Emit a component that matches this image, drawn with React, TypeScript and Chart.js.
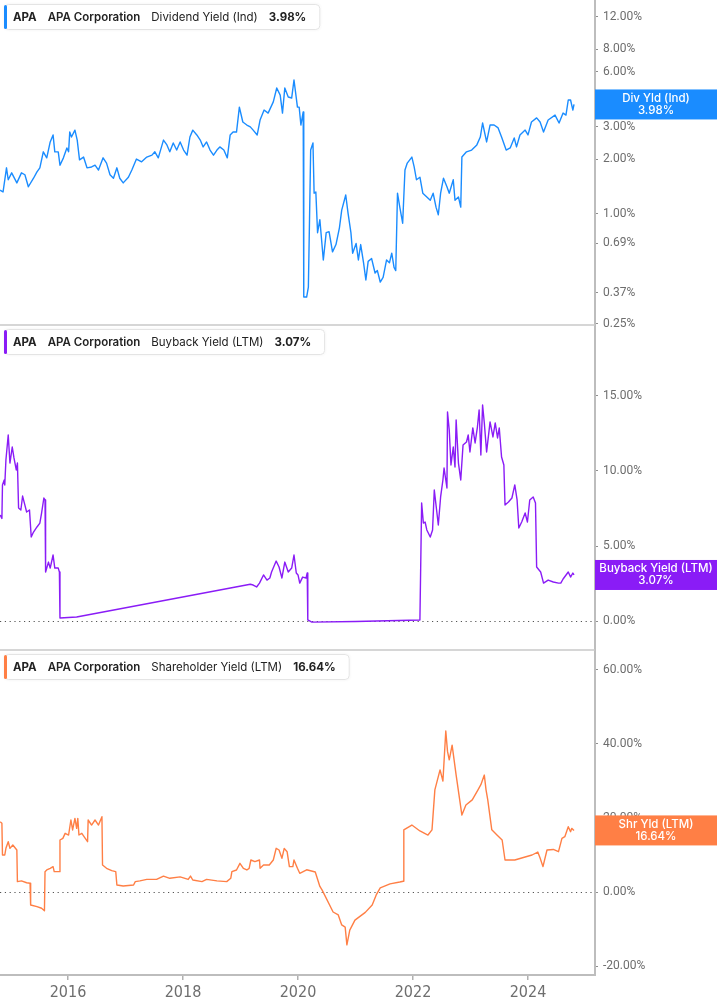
import React, { useEffect, useRef } from 'react';
import { Chart, registerables } from 'chart.js';

Chart.register(...registerables);

// ---------- data ----------
const TICKER = 'APA';
const COMPANY = 'APA Corporation';
const SERIES_NAMES = ['Dividend Yield (Ind)', 'Buyback Yield (LTM)', 'Shareholder Yield (LTM)'];
const BOX_LABELS = ['Div Yld (Ind)', 'Buyback Yield (LTM)', 'Shr Yld (LTM)'];

const X_MIN = 2014.817;
const X_MAX = 2025.165;
const YEAR_TICKS = [2016, 2018, 2020, 2022, 2024];

const DIV_MIN = 0.2466;
const DIV_MAX = 14.86;
const DIV_TICKS = [0.25, 0.37, 0.69, 1, 2, 3, 6, 8, 12];
const BUY_MIN = -1.93;
const BUY_MAX = 19.73;
const BUY_TICKS = [0, 5, 10, 15];
const SHR_MIN = -22.43;
const SHR_MAX = 65.4;
const SHR_TICKS = [-20, 0, 20, 40, 60];

const divDates = [2014.82, 2014.87, 2014.93, 2014.96, 2015.02, 2015.11, 2015.19, 2015.25, 2015.31, 2015.40,
  2015.46, 2015.51, 2015.57, 2015.63, 2015.69, 2015.74, 2015.77, 2015.83, 2015.86, 2015.92,
  2015.98, 2016.01, 2016.03, 2016.06, 2016.12, 2016.16, 2016.20, 2016.27, 2016.33, 2016.41,
  2016.47, 2016.53, 2016.61, 2016.67, 2016.73, 2016.79, 2016.85, 2016.90, 2016.96, 2017.05,
  2017.11, 2017.19, 2017.28, 2017.37, 2017.46, 2017.51, 2017.57, 2017.66, 2017.72, 2017.77,
  2017.83, 2017.89, 2017.95, 2018.01, 2018.07, 2018.12, 2018.17, 2018.24, 2018.30, 2018.35,
  2018.41, 2018.47, 2018.53, 2018.59, 2018.64, 2018.71, 2018.77, 2018.82, 2018.87, 2018.93,
  2018.98, 2019.04, 2019.11, 2019.17, 2019.22, 2019.29, 2019.34, 2019.41, 2019.48, 2019.57,
  2019.63, 2019.69, 2019.73, 2019.77, 2019.83, 2019.89, 2019.93, 2019.99, 2020.02, 2020.05,
  2020.09, 2020.10, 2020.15, 2020.18, 2020.20, 2020.22, 2020.26, 2020.28, 2020.31, 2020.34,
  2020.38, 2020.44, 2020.49, 2020.54, 2020.60, 2020.66, 2020.72, 2020.76, 2020.83, 2020.87,
  2020.92, 2020.95, 2021.01, 2021.05, 2021.09, 2021.14, 2021.18, 2021.22, 2021.28, 2021.34,
  2021.38, 2021.43, 2021.48, 2021.54, 2021.59, 2021.63, 2021.67, 2021.70, 2021.73, 2021.77,
  2021.82, 2021.86, 2021.90, 2021.98, 2022.02, 2022.06, 2022.12, 2022.17, 2022.24, 2022.30,
  2022.35, 2022.40, 2022.44, 2022.48, 2022.53, 2022.59, 2022.63, 2022.70, 2022.73, 2022.79,
  2022.83, 2022.85, 2022.93, 2023.02, 2023.11, 2023.17, 2023.21, 2023.28, 2023.34, 2023.41,
  2023.48, 2023.54, 2023.62, 2023.69, 2023.76, 2023.80, 2023.86, 2023.95, 2024.00, 2024.06,
  2024.15, 2024.21, 2024.27, 2024.35, 2024.47, 2024.54, 2024.61, 2024.66, 2024.70, 2024.74,
  2024.78, 2024.80];
const divValues = [1.35, 1.32, 1.79, 1.54, 1.68, 1.48, 1.68, 1.64, 1.41, 1.57,
  1.70, 1.79, 2.19, 2.03, 2.48, 2.71, 2.19, 2.19, 1.85, 2.03,
  2.30, 2.19, 2.81, 2.64, 2.88, 2.54, 1.98, 2.05, 1.79, 1.81,
  1.85, 1.74, 2.03, 1.90, 1.64, 1.57, 1.79, 1.57, 1.48, 1.59,
  1.74, 2.00, 1.93, 2.05, 2.10, 2.19, 2.03, 2.54, 2.39, 2.19,
  2.45, 2.24, 2.48, 2.24, 2.10, 2.64, 2.88, 2.71, 2.54, 2.33,
  2.48, 2.24, 2.10, 2.24, 2.33, 2.24, 2.03, 2.71, 2.81, 2.81,
  3.85, 3.19, 3.07, 3.00, 2.88, 2.71, 3.27, 3.71, 3.57, 4.11,
  4.90, 4.48, 3.57, 4.90, 4.37, 4.32, 5.42, 3.85, 3.85, 3.07,
  3.62, 0.351, 0.351, 0.398, 0.93, 2.24, 2.45, 1.30, 1.32, 0.79,
  0.93, 0.56, 0.79, 0.80, 0.62, 0.68, 0.84, 1.05, 1.27, 1.01,
  0.79, 0.61, 0.69, 0.56, 0.68, 0.54, 0.435, 0.55, 0.57, 0.475,
  0.49, 0.424, 0.45, 0.56, 0.54, 0.61, 0.51, 0.49, 1.30, 1.09,
  0.89, 1.74, 1.90, 2.05, 1.81, 1.54, 1.59, 1.30, 1.24, 1.19,
  1.30, 1.09, 0.99, 1.30, 1.57, 1.41, 1.30, 1.54, 1.19, 1.24,
  1.09, 2.05, 2.19, 2.24, 2.39, 2.64, 3.15, 2.48, 3.07, 3.07,
  2.96, 2.64, 2.24, 2.30, 2.61, 2.33, 2.71, 2.88, 2.71, 3.19,
  3.36, 3.19, 2.81, 3.27, 3.48, 3.15, 3.57, 3.48, 4.21, 4.21,
  3.71, 3.98];

const buyDates = [2014.82, 2014.85, 2014.86, 2014.89, 2014.90, 2014.92, 2014.96, 2014.99, 2015.03, 2015.06,
  2015.10, 2015.12, 2015.14, 2015.18, 2015.21, 2015.25, 2015.28, 2015.33, 2015.36, 2015.40,
  2015.46, 2015.51, 2015.54, 2015.58, 2015.60, 2015.61, 2015.66, 2015.69, 2015.74, 2015.77,
  2015.83, 2015.85, 2015.86, 2016.15, 2019.17, 2019.22, 2019.28, 2019.33, 2019.40, 2019.46,
  2019.51, 2019.54, 2019.62, 2019.67, 2019.72, 2019.77, 2019.83, 2019.89, 2019.93, 2019.97,
  2020.00, 2020.03, 2020.08, 2020.14, 2020.16, 2020.17, 2020.24, 2021.00, 2022.12, 2022.15,
  2022.18, 2022.21, 2022.24, 2022.30, 2022.34, 2022.37, 2022.41, 2022.44, 2022.48, 2022.52,
  2022.54, 2022.59, 2022.60, 2022.63, 2022.66, 2022.70, 2022.73, 2022.75, 2022.79, 2022.83,
  2022.87, 2022.93, 2022.96, 2022.99, 2023.04, 2023.08, 2023.12, 2023.15, 2023.18, 2023.21,
  2023.24, 2023.28, 2023.34, 2023.39, 2023.43, 2023.47, 2023.50, 2023.54, 2023.58, 2023.60,
  2023.66, 2023.72, 2023.77, 2023.81, 2023.84, 2023.89, 2023.95, 2023.99, 2024.03, 2024.09,
  2024.13, 2024.15, 2024.22, 2024.27, 2024.35, 2024.44, 2024.53, 2024.57, 2024.61, 2024.70,
  2024.74, 2024.78, 2024.80];
const buyValues = [7.07, 6.84, 9.07, 9.4, 9.07, 10.73, 12.4, 10.53, 11.6, 10.87,
  10.07, 10.53, 7.53, 7.4, 8.33, 7.73, 7.27, 7.4, 5.6, 5.93,
  6.27, 6.53, 7.2, 8.2, 8.07, 3.27, 3.93, 3.53, 4.4, 3.53,
  3.53, 3.27, 0.2, 0.27, 2.45, 2.4, 2.27, 2.53, 3.07, 2.73,
  2.87, 3.27, 4.0, 3.6, 2.87, 3.93, 3.27, 3.53, 4.4, 3.2,
  3.07, 2.53, 2.93, 2.87, 3.2, 0.07, -0.07, -0.03, 0.07, 7.87,
  6.53, 6.6, 6.07, 5.6, 6.07, 8.73, 7.4, 6.4, 8.27, 9.4,
  10.2, 8.87, 13.93, 12.73, 10.4, 11.6, 10.27, 13.4, 10.53, 9.4,
  11.73, 11.93, 12.4, 11.27, 12.87, 11.87, 12.93, 14.07, 11.07, 14.4,
  13.2, 11.27, 13.27, 12.27, 13.2, 12.2, 12.87, 10.93, 10.4, 7.73,
  7.93, 8.2, 9.07, 8.07, 6.2, 6.6, 7.2, 6.6, 8.07, 8.27,
  7.87, 3.6, 3.27, 2.53, 2.73, 2.6, 2.53, 2.53, 2.8, 3.27,
  2.93, 3.2, 3.07];

const shrDates = [2014.82, 2014.85, 2014.86, 2014.90, 2014.92, 2014.96, 2014.99, 2015.04, 2015.11, 2015.12,
  2015.19, 2015.28, 2015.34, 2015.35, 2015.46, 2015.54, 2015.59, 2015.60, 2015.63, 2015.69,
  2015.74, 2015.76, 2015.85, 2015.86, 2015.91, 2015.95, 2016.01, 2016.05, 2016.08, 2016.12,
  2016.15, 2016.17, 2016.19, 2016.24, 2016.30, 2016.34, 2016.35, 2016.41, 2016.47, 2016.53,
  2016.59, 2016.60, 2016.67, 2016.76, 2016.83, 2016.85, 2016.96, 2017.14, 2017.17, 2017.25,
  2017.37, 2017.54, 2017.66, 2017.77, 2017.95, 2018.09, 2018.13, 2018.17, 2018.33, 2018.41,
  2018.59, 2018.76, 2018.83, 2018.85, 2018.93, 2018.99, 2019.05, 2019.11, 2019.15, 2019.18,
  2019.25, 2019.33, 2019.34, 2019.40, 2019.50, 2019.57, 2019.62, 2019.67, 2019.72, 2019.76,
  2019.81, 2019.85, 2019.91, 2019.93, 2019.99, 2020.03, 2020.15, 2020.30, 2020.38, 2020.42,
  2020.61, 2020.70, 2020.76, 2020.82, 2020.85, 2020.90, 2020.99, 2021.17, 2021.29, 2021.36,
  2021.43, 2021.60, 2021.77, 2021.83, 2021.84, 2021.98, 2022.12, 2022.26, 2022.33, 2022.38,
  2022.47, 2022.52, 2022.57, 2022.60, 2022.63, 2022.68, 2022.75, 2022.80, 2022.85, 2022.92,
  2023.03, 2023.13, 2023.18, 2023.24, 2023.27, 2023.30, 2023.37, 2023.46, 2023.55, 2023.60,
  2023.77, 2023.95, 2024.07, 2024.17, 2024.21, 2024.26, 2024.33, 2024.44, 2024.53, 2024.59,
  2024.64, 2024.70, 2024.74, 2024.76, 2024.80];
const shrValues = [19.0, 18.6, 10.0, 10.0, 11.8, 13.6, 11.8, 12.7, 11.35, 2.8,
  3.0, 2.5, 2.35, -3.5, -3.97, -4.4, -5.05, 5.5, 5.95, 6.4,
  6.85, 5.5, 5.5, 14.05, 14.5, 15.85, 15.4, 19.46, 16.76, 19.9,
  17.2, 19.9, 15.4, 15.85, 14.5, 13.6, 19.46, 18.1, 19.46, 18.1,
  20.35, 7.3, 6.4, 5.76, 5.5, 1.9, 1.62, 1.9, 2.8, 3.0,
  3.4, 3.4, 4.3, 3.7, 4.1, 3.4, 4.3, 3.24, 2.8, 3.4,
  3.0, 2.8, 3.7, 5.5, 5.95, 7.75, 6.4, 5.95, 6.4, 8.65,
  8.2, 8.65, 6.4, 7.3, 7.3, 8.65, 11.8, 11.35, 9.1, 11.8,
  10.9, 6.85, 6.85, 8.65, 6.4, 5.05, 6.0, 5.4, 1.5, 0.5,
  -5.4, -6.2, -8.9, -9.5, -14.3, -10.3, -7.6, -5.5, -3.5, -0.8,
  1.1, 2.2, 2.7, 2.9, 16.8, 18.1, 16.5, 15.4, 16.8, 27.6,
  33, 30, 43.5, 38, 35.7, 39.7, 31.6, 26.2, 20.8, 23.5,
  24.9, 27.6, 29, 31.6, 27.6, 24.9, 16.8, 15.4, 14.05, 8.65,
  8.65, 9.46, 10, 10.8, 9.2, 6.85, 11.35, 11.5, 10.9, 14.5,
  14.95, 17.65, 16.3, 17.2, 16.64];

// ---------- style ----------
const COLORS = ['#1a8cff', '#8a1cf6', '#ff7f45'];
const AXIS_W = 122;
const TEXT_FONT = 'Inter, "Noto Sans", sans-serif';
const LEGEND_SIZE = 11.5;

const pct = (v: number) => v.toFixed(2) + '%';

function rr(ctx: CanvasRenderingContext2D, x: number, y: number, w: number, h: number, r: number) {
  ctx.beginPath();
  ctx.moveTo(x + r, y);
  ctx.lineTo(x + w - r, y);
  ctx.arcTo(x + w, y, x + w, y + r, r);
  ctx.lineTo(x + w, y + h - r);
  ctx.arcTo(x + w, y + h, x + w - r, y + h, r);
  ctx.lineTo(x + r, y + h);
  ctx.arcTo(x, y + h, x, y + h - r, r);
  ctx.lineTo(x, y + r);
  ctx.arcTo(x, y, x + r, y, r);
  ctx.closePath();
}

function drawLegend(ctx: CanvasRenderingContext2D, x: number, y: number, color: string, parts: { t: string; w: number }[]) {
  const GAP = 11;
  const widths = parts.map((p) => {
    ctx.font = `${p.w} ${LEGEND_SIZE}px ${TEXT_FONT}`;
    return ctx.measureText(p.t).width;
  });
  const total = widths.reduce((a, b) => a + b, 0) + GAP * (parts.length - 1);
  const w = 9 + total + 14;
  const h = 26;
  ctx.save();
  ctx.shadowColor = 'rgba(0,0,0,0.06)';
  ctx.shadowBlur = 3;
  ctx.fillStyle = '#ffffff';
  rr(ctx, x, y, w, h, 4);
  ctx.fill();
  ctx.shadowColor = 'transparent';
  ctx.strokeStyle = '#e4e4e4';
  ctx.lineWidth = 1;
  rr(ctx, x + 0.5, y + 0.5, w - 1, h - 1, 4);
  ctx.stroke();
  ctx.fillStyle = color;
  rr(ctx, x, y + 1, 3, h - 2, 1.5);
  ctx.fill();
  let cx = x + 9;
  ctx.textBaseline = 'middle';
  ctx.textAlign = 'left';
  parts.forEach((p, i) => {
    ctx.font = `${p.w} ${LEGEND_SIZE}px ${TEXT_FONT}`;
    ctx.fillStyle = '#222222';
    ctx.fillText(p.t, cx, y + h / 2 + 0.5);
    cx += widths[i] + GAP;
  });
  ctx.restore();
}

const overlay = {
  id: 'overlay',
  beforeDatasetsDraw(chart: any) {
    const { ctx, chartArea } = chart;
    const s1 = chart.scales.y1;
    const s2 = chart.scales.y2;
    const s3 = chart.scales.y3;
    ctx.save();
    ctx.strokeStyle = '#c9c9c9';
    ctx.lineWidth = 1.5;
    [s1.bottom, s2.bottom].forEach((yy: number) => {
      ctx.beginPath();
      ctx.moveTo(chartArea.left, yy);
      ctx.lineTo(chartArea.right, yy);
      ctx.stroke();
    });
    ctx.setLineDash([1.2, 3.6]);
    ctx.strokeStyle = '#555555';
    ctx.lineWidth = 1;
    [s2, s3].forEach((s: any) => {
      const yy = Math.round(s.getPixelForValue(0)) + 0.5;
      ctx.beginPath();
      ctx.moveTo(chartArea.left, yy);
      ctx.lineTo(chartArea.right, yy);
      ctx.stroke();
    });
    ctx.restore();
  },
  afterDraw(chart: any) {
    const { ctx, chartArea } = chart;
    const scales = [chart.scales.y1, chart.scales.y2, chart.scales.y3];
    const lasts = [divValues[divValues.length - 1], buyValues[buyValues.length - 1], shrValues[shrValues.length - 1]];
    scales.forEach((s: any, i: number) => {
      drawLegend(ctx, 4, s.top + 4, COLORS[i], [
        { t: TICKER, w: 700 },
        { t: COMPANY, w: 600 },
        { t: SERIES_NAMES[i], w: 400 },
        { t: pct(lasts[i]), w: 700 },
      ]);
      const yv = s.getPixelForValue(lasts[i]);
      const bx = chartArea.right;
      const bw = chart.width - bx;
      ctx.save();
      ctx.fillStyle = COLORS[i];
      ctx.fillRect(bx, yv - 15, bw, 30);
      ctx.fillStyle = '#ffffff';
      ctx.font = `500 11.5px ${TEXT_FONT}`;
      ctx.textAlign = 'center';
      ctx.textBaseline = 'middle';
      ctx.fillText(BOX_LABELS[i], bx + bw / 2, yv - 6);
      ctx.fillText(pct(lasts[i]), bx + bw / 2, yv + 6);
      ctx.restore();
    });
  },
};

function yAxis(type: string, min: number, max: number, ticks: number[], weight: number) {
  return {
    type,
    position: 'right',
    stack: 'panels',
    stackWeight: 1,
    weight,
    min,
    max,
    bounds: 'data',
    afterBuildTicks: (s: any) => {
      s.ticks = ticks.map((v) => ({ value: v }));
    },
    afterFit: (s: any) => {
      s.width = AXIS_W;
      s.paddingTop = 0;
      s.paddingBottom = 0;
    },
    ticks: {
      autoSkip: false,
      padding: 5,
      color: '#6d6d6d',
      font: { family: 'Roboto, "Noto Sans", sans-serif', size: 12 },
      callback: (v: any) => pct(Number(v)),
    },
    grid: {
      display: true,
      drawOnChartArea: false,
      drawTicks: true,
      tickLength: 3,
      color: '#8f8f8f',
      lineWidth: 1,
    },
    border: { display: true, color: '#bdbdbd', width: 2 },
  };
}

export default function App() {
  const ref = useRef<HTMLCanvasElement>(null);
  useEffect(() => {
    const canvas = ref.current;
    if (!canvas) return;
    const line = (dates: number[], vals: number[], axis: string, color: string) => ({
      data: dates.map((d, i) => ({ x: d, y: vals[i] })),
      yAxisID: axis,
      borderColor: color,
      backgroundColor: color,
      borderWidth: 1.4,
      pointRadius: 0,
      tension: 0,
      fill: false,
      borderJoinStyle: 'round',
    });
    const chart = new Chart(canvas, {
      type: 'line',
      data: {
        datasets: [
          line(divDates, divValues, 'y1', COLORS[0]),
          line(buyDates, buyValues, 'y2', COLORS[1]),
          line(shrDates, shrValues, 'y3', COLORS[2]),
        ] as any,
      },
      options: {
        animation: false,
        responsive: false,
        maintainAspectRatio: false,
        events: [],
        layout: { padding: 0 },
        plugins: {
          legend: { display: false },
          tooltip: { enabled: false },
          title: { display: false },
        },
        scales: {
          x: {
            type: 'linear',
            position: 'bottom',
            min: X_MIN,
            max: X_MAX,
            bounds: 'data',
            afterBuildTicks: (s: any) => {
              s.ticks = YEAR_TICKS.map((v) => ({ value: v }));
            },
            afterFit: (s: any) => {
              s.height = 30;
              s.paddingLeft = 0;
              s.paddingRight = 0;
            },
            ticks: {
              autoSkip: false,
              maxRotation: 0,
              padding: 3,
              color: '#6e6e6e',
              font: { family: '"Liberation Sans Narrow", "DejaVu Sans Condensed", "Roboto", sans-serif', size: 16 },
              callback: (v: any) => String(v),
            },
            grid: {
              display: true,
              drawOnChartArea: false,
              drawTicks: true,
              tickLength: 5,
              color: '#b0b0b0',
              lineWidth: 1.5,
            },
            border: { display: true, color: '#bdbdbd', width: 2 },
          },
          y1: yAxis('logarithmic', DIV_MIN, DIV_MAX, DIV_TICKS, 1),
          y2: yAxis('linear', BUY_MIN, BUY_MAX, BUY_TICKS, 2),
          y3: yAxis('linear', SHR_MIN, SHR_MAX, SHR_TICKS, 3),
        } as any,
      },
      plugins: [overlay],
    });
    return () => chart.destroy();
  }, []);
  return (
    <div style={{ position: 'absolute', left: 0, top: 0, width: 717, height: 1005, background: '#ffffff' }}>
      <canvas ref={ref} width={717} height={1005} style={{ display: 'block', width: 717, height: 1005 }} />
    </div>
  );
}
